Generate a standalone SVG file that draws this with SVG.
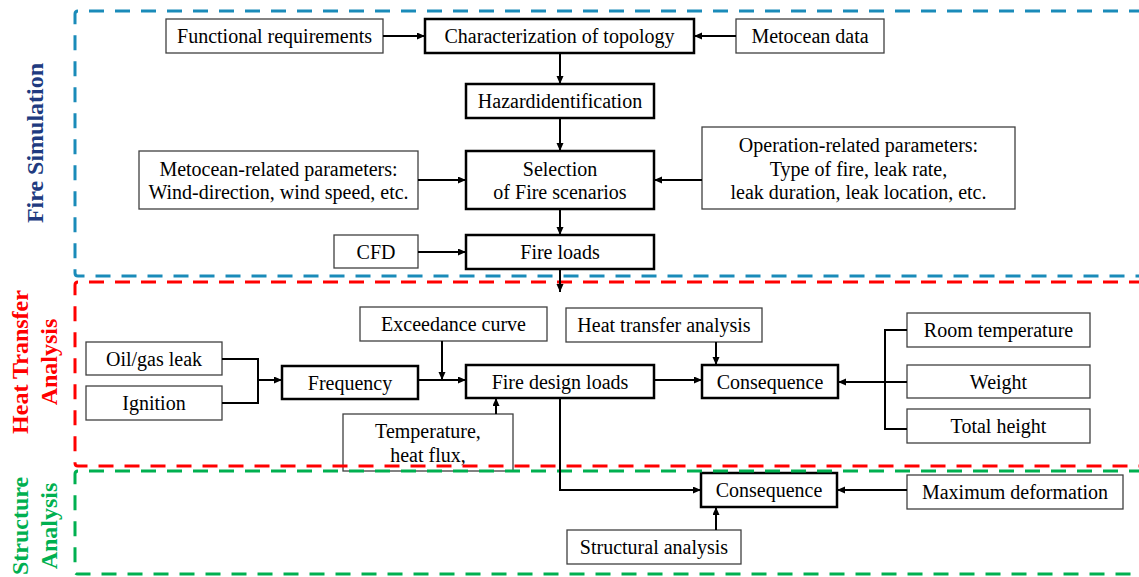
<svg xmlns="http://www.w3.org/2000/svg" width="1139" height="577" viewBox="0 0 1139 577">
<defs>
<style>
.n rect{fill:#fff;stroke:#404040;stroke-width:1.3}
.n.k rect{stroke:#000;stroke-width:2.5}
.n text, .t{font-family:"Liberation Serif","Times New Roman",serif;font-size:20px;fill:#000;text-anchor:middle}
.c path{fill:none;stroke:#000;stroke-width:2}
.c path.a{marker-end:url(#ar)}
.f{fill:none;stroke-width:3;stroke-dasharray:15 11}
.lab{font-family:"Liberation Serif","Times New Roman",serif;font-size:24px;font-weight:bold;text-anchor:middle}
</style>
<marker id="ar" markerUnits="userSpaceOnUse" markerWidth="9" markerHeight="8" refX="8" refY="3.5" orient="auto">
<path d="M0,0 L8,3.5 L0,7 z" fill="#000"/>
</marker>
</defs>
<rect width="1139" height="577" fill="#fff"/>

<g id="n1" class="n"><rect x="166" y="19" width="217" height="34"/><text x="274.5" y="43">Functional requirements</text></g>
<g id="n2" class="n k"><rect x="425" y="19" width="269" height="34"/><text x="559.5" y="43">Characterization of topology</text></g>
<g id="n3" class="n"><rect x="736" y="19" width="148" height="34"/><text x="810" y="43">Metocean data</text></g>
<g id="n4" class="n k"><rect x="466" y="84" width="188" height="34"/><text x="560" y="108">Hazardidentification</text></g>
<g id="n5" class="n k"><rect x="466" y="151" width="188" height="58"/><text x="560" y="176">Selection</text><text x="560" y="199">of Fire scenarios</text></g>
<g id="n6" class="n"><rect x="139" y="151" width="279" height="58"/><text x="278.5" y="176">Metocean-related parameters:</text><text x="278.5" y="199">Wind-direction, wind speed, etc.</text></g>
<g id="n7" class="n"><rect x="702" y="127" width="313" height="82"/><text x="858.5" y="152">Operation-related parameters:</text><text x="858.5" y="175.5">Type of fire, leak rate,</text><text x="858.5" y="199">leak duration, leak location, etc.</text></g>
<g id="n8" class="n"><rect x="334" y="235" width="84" height="33"/><text x="376" y="259">CFD</text></g>
<g id="n9" class="n k"><rect x="466" y="235" width="188" height="34"/><text x="560" y="259">Fire loads</text></g>

<g id="n10" class="n"><rect x="360" y="307" width="187" height="34"/><text x="453.5" y="331">Exceedance curve</text></g>
<g id="n11" class="n"><rect x="566" y="308" width="196" height="34"/><text x="664" y="332">Heat transfer analysis</text></g>
<g id="n12" class="n"><rect x="86" y="342" width="136" height="33"/><text x="154" y="366">Oil/gas leak</text></g>
<g id="n13" class="n"><rect x="86" y="386" width="136" height="34"/><text x="154" y="410">Ignition</text></g>
<g id="n14" class="n k"><rect x="282" y="366" width="136" height="33"/><text x="350" y="390">Frequency</text></g>
<g id="n15" class="n k"><rect x="466" y="365" width="188" height="33"/><text x="560" y="389">Fire design loads</text></g>
<g id="n16" class="n k"><rect x="702" y="365" width="136" height="33"/><text x="770" y="389">Consequence</text></g>
<g id="n17" class="n"><rect x="907" y="313" width="183" height="34"/><text x="998.5" y="337">Room temperature</text></g>
<g id="n18" class="n"><rect x="907" y="365" width="183" height="33"/><text x="998.5" y="389">Weight</text></g>
<g id="n19" class="n"><rect x="907" y="409" width="183" height="34"/><text x="998.5" y="433">Total height</text></g>
<g id="n20" class="n"><rect x="343" y="414" width="170" height="57"/><text x="428" y="438">Temperature,</text><text x="428" y="462">heat flux,</text></g>
<g id="n21" class="n k"><rect x="701" y="473" width="136" height="34"/><text x="769" y="497">Consequence</text></g>
<g id="n22" class="n"><rect x="907" y="475" width="216" height="34"/><text x="1015" y="499">Maximum deformation</text></g>
<g id="n23" class="n"><rect x="567" y="530" width="174" height="34"/><text x="654" y="554">Structural analysis</text></g>

<g id="frames">
<path class="f" stroke="#1A8BB9" d="M1170,11 H78 Q75,11 75,14 V273 Q75,276 78,276 H1170"/>
<path class="f" stroke="#FF0000" d="M1170,282 H78 Q75,282 75,285 V463 Q75,466 78,466 H1170"/>
<path class="f" stroke="#00B050" d="M1170,471 H78 Q75,471 75,474 V571 Q75,574 78,574 H1170"/>
<text class="lab" fill="#203A80" transform="translate(43,143) rotate(-90)">Fire Simulation</text>
<text class="lab" fill="#FF0000" transform="translate(28,362) rotate(-90)">Heat Transfer</text>
<text class="lab" fill="#FF0000" transform="translate(57,362) rotate(-90)">Analysis</text>
<text class="lab" fill="#00B050" transform="translate(28,526) rotate(-90)">Structure</text>
<text class="lab" fill="#00B050" transform="translate(57,526) rotate(-90)">Analysis</text>
</g>

<g id="connectors" class="c">
<path class="a" d="M383,36 H425"/>
<path class="a" d="M736,36 H694"/>
<path class="a" d="M560,53 V84"/>
<path class="a" d="M560,118 V151"/>
<path class="a" d="M418,180 H466"/>
<path class="a" d="M702,180 H654"/>
<path class="a" d="M560,209 V235"/>
<path class="a" d="M418,252 H466"/>
<path class="a" d="M560,269 V292"/>
<path d="M222,359 H258 V403 H222"/>
<path class="a" d="M258,380 H282"/>
<path class="a" d="M418,380 H466"/>
<path class="a" d="M442,341 V380"/>
<path class="a" d="M496,414 V398"/>
<path class="a" d="M654,380 H702"/>
<path class="a" d="M716,342 V365"/>
<path d="M907,330 H885 V429 H907"/>
<path class="a" d="M907,382 H838"/>
<path class="a" d="M560,398 V490 H701"/>
<path class="a" d="M907,490 H837"/>
<path class="a" d="M716,530 V507"/>
</g>
</svg>
